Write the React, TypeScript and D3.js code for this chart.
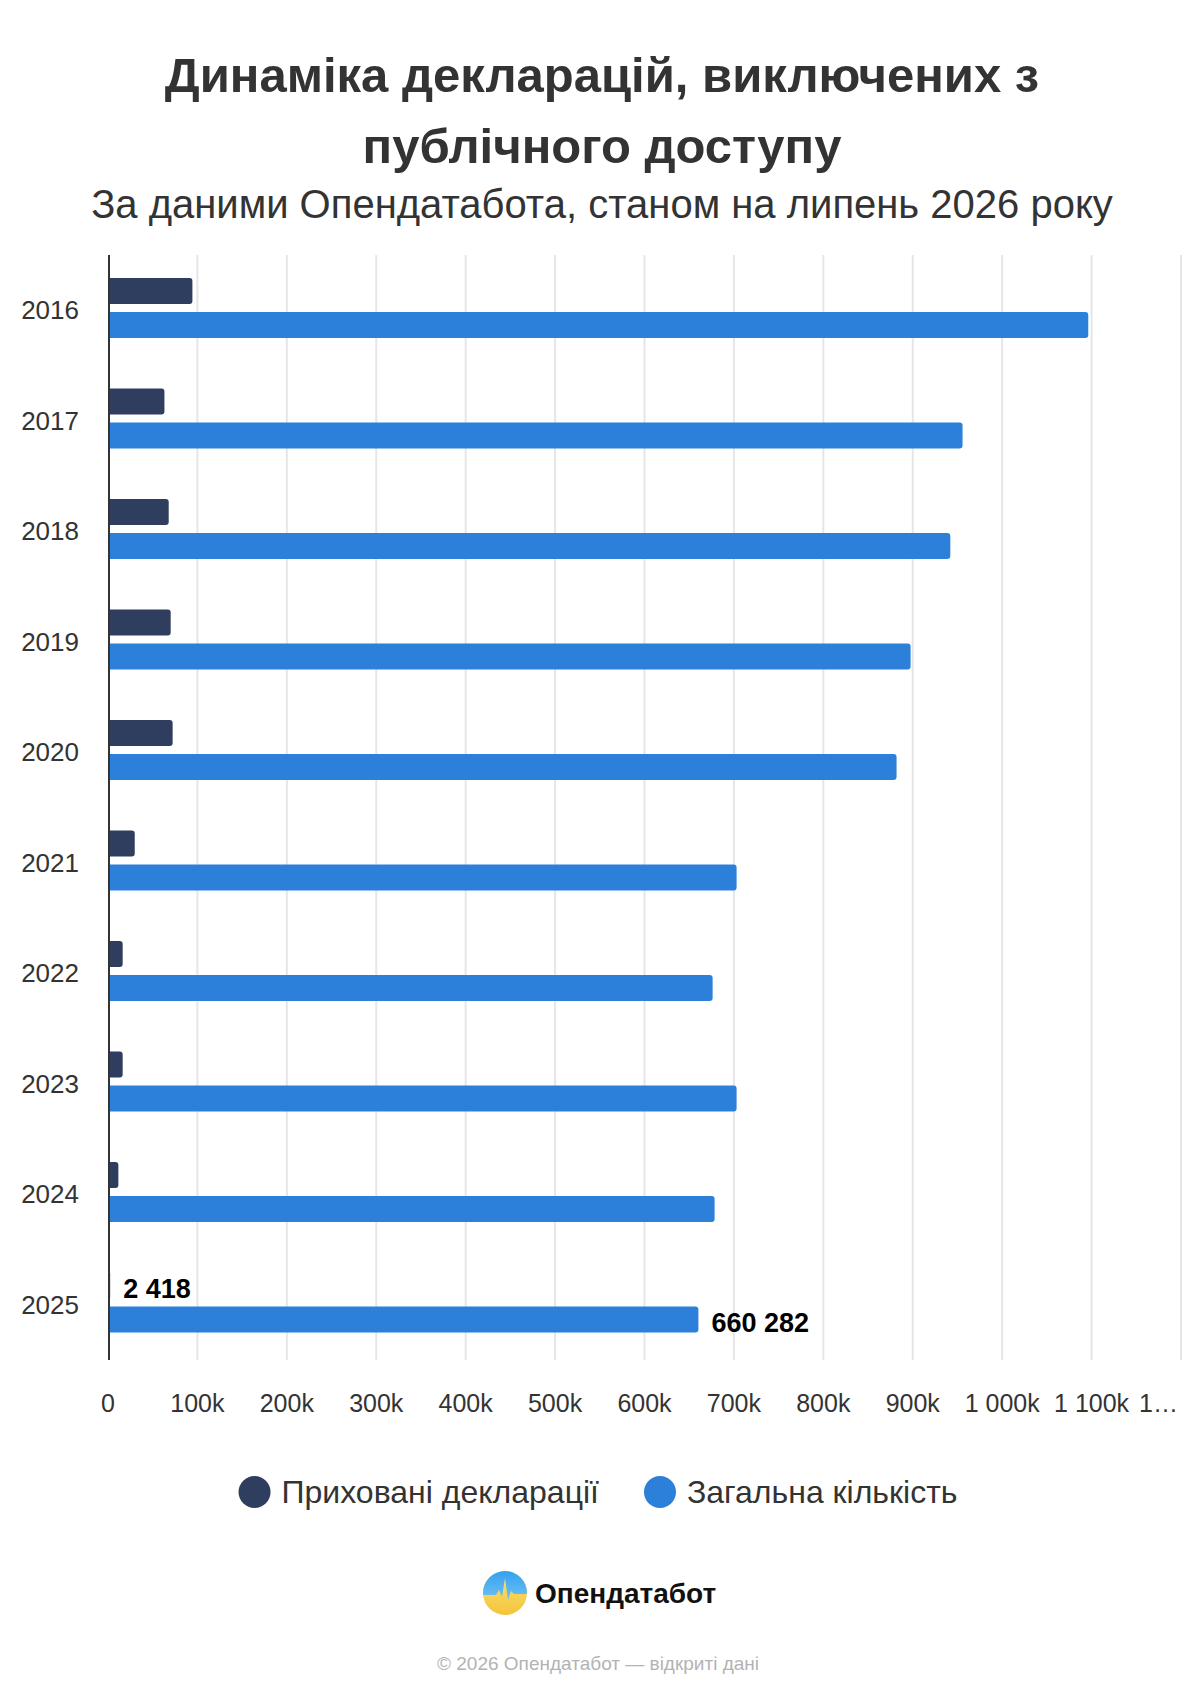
import React from 'react';
import * as d3 from 'd3';
import { useRef, useEffect } from 'react';

const years = ['2016', '2017', '2018', '2019', '2020', '2021', '2022', '2023', '2024', '2025'];
const hidden = [94400, 63100, 67900, 70100, 72300, 29900, 16400, 16400, 11600, 2418];
const total = [1096300, 955700, 942000, 897600, 881900, 703000, 676200, 703000, 678400, 660282];
const xTicks = [0, 100000, 200000, 300000, 400000, 500000, 600000, 700000, 800000, 900000, 1000000, 1100000, 1200000];
const xTickLabels = ['0', '100k', '200k', '300k', '400k', '500k', '600k', '700k', '800k', '900k', '1 000k', '1 100k', '1…'];
const seriesNames = ['Приховані декларації', 'Загальна кількість'];
const seriesColors = ['#2f3d5e', '#2d80d9'];

const W = 1200;
const H = 1700;
const FONT = '"Liberation Sans", Arial, sans-serif';

// bar with rounded right end
const barPath = (x0: number, x1: number, y: number, h: number) => {
  const r = Math.min(3, (x1 - x0) / 2, h / 2);
  return `M${x0},${y}H${x1 - r}Q${x1},${y} ${x1},${y + r}V${y + h - r}Q${x1},${y + h} ${x1 - r},${y + h}H${x0}Z`;
};

function Chart() {
  const root = useRef<HTMLDivElement>(null);

  useEffect(() => {
    const rootNode = root.current;
    const svg = d3
      .create('svg')
      .attr('width', W)
      .attr('height', H)
      .attr('viewBox', `0 0 ${W} ${H}`)
      .style('font-family', FONT)
      .style('background', '#fff')
      .style('display', 'block');
    // attach early so text can be measured
    rootNode?.appendChild(svg.node() as Node);

    // titles
    const titleG = svg.append('g').attr('fill', '#333').attr('text-anchor', 'middle');
    titleG.append('text').attr('x', 602).attr('y', 92).attr('font-size', 49).attr('font-weight', 700)
      .text('Динаміка декларацій, виключених з');
    titleG.append('text').attr('x', 602).attr('y', 163).attr('font-size', 49).attr('font-weight', 700)
      .text('публічного доступу');
    titleG.append('text').attr('x', 602).attr('y', 218).attr('font-size', 40)
      .text('За даними Опендатабота, станом на липень 2026 року');

    const top = 255;
    const bottom = 1360;

    const x = d3.scaleLinear().domain([0, 1200000]).range([108, 1181]);
    const y = d3.scaleBand().domain(years).range([top, bottom]);
    const sub = d3.scaleBand().domain(['0', '1']).range([23, 83]).paddingInner(8 / 34);

    // grid
    svg.append('g')
      .selectAll('line')
      .data(xTicks.slice(1))
      .join('line')
      .attr('x1', d => x(d))
      .attr('x2', d => x(d))
      .attr('y1', top)
      .attr('y2', bottom)
      .attr('stroke', '#e6e6e6')
      .attr('stroke-width', 2);

    // bars
    [hidden, total].forEach((vals, si) => {
      svg.append('g')
        .attr('fill', seriesColors[si])
        .selectAll('path')
        .data(vals)
        .join('path')
        .attr('d', (d, i) => barPath(x(0), x(d), (y(years[i]) as number) + (sub(String(si)) as number), sub.bandwidth()));
    });

    // axis line
    svg.append('line')
      .attr('x1', x(0) + 1).attr('x2', x(0) + 1)
      .attr('y1', top).attr('y2', bottom)
      .attr('stroke', '#333').attr('stroke-width', 2);

    // year labels
    svg.append('g')
      .attr('fill', '#333')
      .attr('font-size', 26)
      .attr('text-anchor', 'end')
      .selectAll('text')
      .data(years)
      .join('text')
      .attr('x', 79)
      .attr('y', d => (y(d) as number) + y.bandwidth() / 2 + 9)
      .text(d => d);

    // x tick labels
    svg.append('g')
      .attr('fill', '#333')
      .attr('font-size', 25)
      .selectAll('text')
      .data(xTicks)
      .join('text')
      .attr('x', (d, i) => (i === xTicks.length - 1 ? x(d) - 42 : x(d)))
      .attr('text-anchor', (d, i) => (i === xTicks.length - 1 ? 'start' : 'middle'))
      .attr('y', 1412)
      .text((d, i) => xTickLabels[i]);

    // value labels on last year
    const last = years.length - 1;
    const fmt = (v: number) => d3.format(',')(v).replace(/,/g, ' ');
    [hidden, total].forEach((vals, si) => {
      svg.append('text')
        .attr('x', x(vals[last]) + 13)
        .attr('y', (y(years[last]) as number) + (sub(String(si)) as number) + sub.bandwidth() / 2 + 12)
        .attr('font-size', 27)
        .attr('font-weight', 700)
        .attr('fill', '#000')
        .text(fmt(vals[last]));
    });

    // legend
    const legend = svg.append('g').attr('transform', 'translate(0,1492)');
    const items = legend.selectAll('g').data(seriesNames).join('g');
    items.append('circle').attr('r', 16).attr('cx', 16).attr('fill', (d, i) => seriesColors[i]);
    items.append('text').attr('x', 43).attr('y', 11).attr('font-size', 32).attr('fill', '#333').text(d => d);
    const widths: number[] = [];
    items.select('text').each(function () {
      widths.push((this as SVGTextElement).getComputedTextLength());
    });
    const itemW = widths.map(w => 43 + w);
    const gap = 45;
    const totalW = d3.sum(itemW) + gap * (itemW.length - 1);
    let cursor = 598 - totalW / 2;
    items.attr('transform', (d, i) => {
      const t = `translate(${cursor},0)`;
      cursor += itemW[i] + gap;
      return t;
    });

    // logo
    const defs = svg.append('defs');
    const gy = defs.append('linearGradient').attr('id', 'logoYellow').attr('x1', 0).attr('y1', 0).attr('x2', 0).attr('y2', 1);
    gy.append('stop').attr('offset', '0%').attr('stop-color', '#fbe27a');
    gy.append('stop').attr('offset', '100%').attr('stop-color', '#f3c53a');
    const gb = defs.append('linearGradient').attr('id', 'logoBlue').attr('x1', 0).attr('y1', 0).attr('x2', 0).attr('y2', 1);
    gb.append('stop').attr('offset', '0%').attr('stop-color', '#2f9ff0');
    gb.append('stop').attr('offset', '100%').attr('stop-color', '#6fc1f2');
    defs.append('clipPath').attr('id', 'logoClip').append('circle').attr('cx', 0).attr('cy', 0).attr('r', 22);

    const logo = svg.append('g').attr('transform', 'translate(505,1593)');
    const lg = logo.append('g').attr('clip-path', 'url(#logoClip)');
    lg.append('rect').attr('x', -22).attr('y', -22).attr('width', 44).attr('height', 44).attr('fill', 'url(#logoYellow)');
    const pulse: [number, number][] = [[-24, -24], [-24, 2], [-9, 2], [-6, -3], [-3, 4], [0, -15], [3, 7], [6, -2], [9, 1], [24, 1], [24, -24]];
    lg.append('path').attr('d', d3.line()(pulse) + 'Z').attr('fill', 'url(#logoBlue)');
    logo.append('text').attr('x', 30).attr('y', 10).attr('font-size', 28).attr('font-weight', 700).attr('fill', '#111')
      .text('Опендатабот');

    // footer
    svg.append('text')
      .attr('x', 598).attr('y', 1670)
      .attr('text-anchor', 'middle')
      .attr('font-size', 19)
      .attr('fill', '#b3b3b3')
      .text('© 2026 Опендатабот — відкриті дані');

    return () => {
      if (rootNode && rootNode.firstChild) rootNode.removeChild(rootNode.firstChild);
    };
  }, []);

  return <div ref={root} style={{ position: 'absolute', left: 0, top: 0 }} />;
}

export default function App() {
  return <Chart />;
}
